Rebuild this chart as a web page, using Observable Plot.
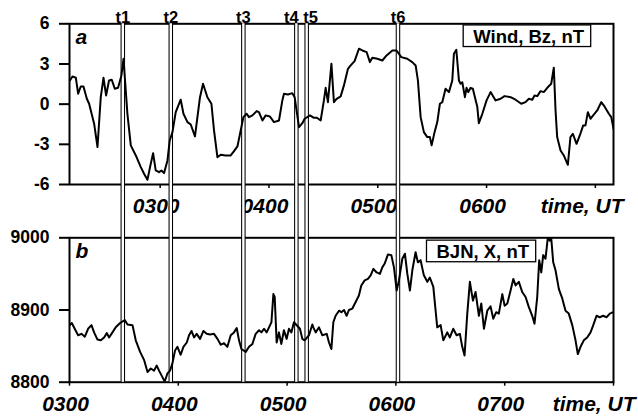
<!DOCTYPE html>
<html><head><meta charset="utf-8">
<script src="https://cdn.jsdelivr.net/npm/d3@7"></script>
<script src="https://cdn.jsdelivr.net/npm/@observablehq/plot@0.6"></script>
<style>
body{margin:0;background:#fff;}
#fig{position:relative;width:638px;height:416px;background:#fff;font-family:"Liberation Sans",Arial,sans-serif;}
#fig svg{position:absolute;left:0;top:0;}
</style></head><body><div id="fig"></div><script>
// ---- Panel a: Wind Bz (nT), time in decimal hours UT ----
const bzTime = [2.170,2.194,2.225,2.246,2.270,2.295,2.326,2.347,2.393,2.424,2.454,2.479,2.503,2.530,2.555,2.583,2.613,2.644,2.663,2.699,2.730,2.776,2.822,2.852,2.883,2.907,2.935,2.959,2.990,3.012,3.036,3.067,3.088,3.113,3.143,3.189,3.214,3.251,3.281,3.320,3.366,3.394,3.434,3.471,3.495,3.526,3.557,3.602,3.648,3.679,3.710,3.734,3.765,3.795,3.816,3.848,3.887,3.908,3.940,3.970,4.009,4.046,4.092,4.123,4.138,4.175,4.215,4.236,4.276,4.307,4.328,4.377,4.413,4.441,4.475,4.505,4.521,4.542,4.574,4.597,4.622,4.659,4.689,4.726,4.751,4.787,4.827,4.858,4.898,4.928,4.950,4.996,5.042,5.081,5.134,5.173,5.216,5.271,5.317,5.348,5.369,5.394,5.424,5.455,5.479,5.495,5.522,5.547,5.571,5.593,5.623,5.654,5.685,5.700,5.722,5.746,5.761,5.777,5.801,5.816,5.832,5.853,5.874,5.893,5.915,5.929,5.961,6.000,6.037,6.083,6.129,6.165,6.221,6.266,6.319,6.358,6.389,6.420,6.441,6.466,6.496,6.526,6.558,6.594,6.618,6.634,6.649,6.680,6.710,6.747,6.771,6.793,6.827,6.857,6.888,6.909,6.931,6.955,6.980,7.017,7.054,7.084,7.124,7.146,7.167];
const bzValue = [1.77,2.07,1.97,0.78,1.32,1.32,0.40,0.03,-1.46,-3.20,0.52,1.97,0.65,1.77,1.82,1.15,1.22,2.14,3.39,-0.72,-3.08,-3.83,-4.70,-5.20,-5.65,-4.70,-3.66,-4.95,-5.08,-4.95,-5.15,-4.20,-2.71,-2.09,-0.60,0.33,-0.72,-1.34,-1.52,-2.41,0.52,1.52,0.52,0.03,-1.96,-3.96,-3.78,-3.83,-3.83,-3.50,-3.16,-2.21,-0.97,-0.72,-0.97,-0.84,-0.52,-0.60,-1.22,-0.84,-0.92,-1.34,-1.22,0.28,0.78,0.72,0.82,0.52,-1.72,-1.42,-1.09,-0.84,-1.02,-1.02,-1.22,0.28,1.22,0.15,3.02,0.15,0.40,0.58,1.40,2.64,2.89,3.21,4.14,4.01,3.88,3.14,3.47,3.39,3.26,3.64,4.01,4.01,3.51,3.39,3.14,2.89,1.77,-0.97,-2.09,-2.46,-2.46,-3.08,-2.09,-1.34,0.03,0.15,1.15,0.90,1.77,3.76,4.06,1.77,1.52,1.64,0.52,1.22,0.90,1.22,1.15,0.52,-0.22,-1.42,-0.72,0.28,0.90,0.28,0.40,0.60,0.52,0.33,0.03,0.15,0.40,0.33,0.65,0.60,0.97,0.90,1.22,1.52,2.72,-0.47,-2.46,-3.46,-3.83,-4.53,-2.46,-2.21,-2.96,-2.34,-1.59,-1.59,-0.60,-1.09,-0.84,-0.47,0.15,-0.17,-0.72,-0.97,-1.84];
const bzTicks = [-6,-3,0,3,6];
const bzTickLabels = ["-6","-3","0","3","6"];
const timeTicksA = [3,4,5,6,7];
const timeLabelsA = ["0300","0400","0500","0600",""];
const domainA = [2 + 10/60, 7 + 10/60];

// ---- Panel b: BJN X (nT) ----
const bjnTime = [3.003,3.021,3.048,3.079,3.110,3.141,3.171,3.202,3.226,3.257,3.288,3.318,3.343,3.364,3.395,3.425,3.465,3.508,3.533,3.579,3.609,3.649,3.685,3.717,3.747,3.777,3.802,3.823,3.854,3.875,3.900,3.924,3.946,3.970,3.992,4.022,4.047,4.078,4.099,4.121,4.145,4.169,4.200,4.231,4.261,4.292,4.328,4.360,4.390,4.420,4.451,4.482,4.512,4.537,4.558,4.580,4.620,4.650,4.681,4.711,4.742,4.764,4.788,4.812,4.834,4.856,4.874,4.886,4.904,4.925,4.947,4.971,4.996,5.017,5.039,5.063,5.118,5.140,5.161,5.201,5.232,5.241,5.263,5.293,5.324,5.364,5.385,5.407,5.425,5.446,5.477,5.499,5.523,5.547,5.568,5.600,5.630,5.660,5.682,5.713,5.743,5.768,5.793,5.823,5.853,5.875,5.896,5.927,5.958,5.982,6.007,6.028,6.059,6.083,6.105,6.129,6.151,6.181,6.202,6.227,6.257,6.289,6.312,6.344,6.365,6.380,6.411,6.436,6.472,6.496,6.527,6.558,6.588,6.610,6.631,6.656,6.680,6.708,6.732,6.763,6.785,6.809,6.840,6.870,6.895,6.922,6.946,6.978,6.999,7.024,7.054,7.079,7.100,7.130,7.161,7.192,7.222,7.253,7.274,7.299,7.317,7.336,7.354,7.375,7.397,7.415,7.428,7.446,7.467,7.498,7.529,7.559,7.589,7.621,7.651,7.672,7.697,7.727,7.758,7.789,7.814,7.844,7.874,7.905,7.936,7.966,7.997];
const bjnValue = [8879,8882,8874,8865,8867,8863,8874,8879,8869,8859,8858,8862,8868,8862,8869,8876,8882,8886,8880,8879,8858,8842,8831,8814,8819,8816,8823,8816,8807,8801,8812,8816,8826,8844,8849,8838,8849,8855,8865,8871,8862,8867,8860,8871,8867,8866,8867,8860,8852,8854,8849,8865,8869,8875,8858,8846,8842,8849,8853,8867,8872,8869,8874,8869,8876,8883,8922,8918,8855,8869,8853,8872,8860,8874,8869,8883,8874,8860,8858,8865,8880,8876,8869,8876,8865,8867,8855,8846,8883,8892,8899,8897,8900,8892,8900,8902,8911,8920,8934,8941,8943,8948,8957,8952,8950,8959,8964,8977,8976,8959,8927,8941,8971,8978,8950,8927,8955,8980,8966,8969,8948,8939,8945,8932,8899,8876,8879,8858,8869,8862,8874,8865,8867,8849,8837,8895,8939,8913,8925,8892,8909,8874,8899,8905,8888,8897,8895,8922,8906,8909,8927,8943,8934,8939,8925,8918,8904,8892,8881,8918,8969,8952,8976,8971,9001,8996,8999,8966,8955,8929,8916,8899,8895,8879,8858,8839,8849,8858,8862,8869,8879,8892,8890,8892,8890,8895,8897];
const bjnTicks = [8800,8900,9000];
const bjnTickLabels = ["8800","8900","9000"];
const timeTicksB = [3,4,5,6,7,8];
const timeLabelsB = ["0300","0400","0500","0600","0700",""];
const domainB = [3, 8];

// ---- Events t1..t6 (UT hours, panel b time) ----
const eventTime = [3.490,3.931,4.598,5.085,5.180,6.019];
const eventLabel = ["t1","t2","t3","t4","t5","t6"];

const panelLabels = ["a","b"];
const legendLabels = ["Wind, Bz, nT","BJN, X, nT"];
const axisTitle = "time, UT";

const W = 638, H = 416;
const FONT = "Liberation Sans, Arial, sans-serif";
const common = {width: W, height: H, marginLeft: 69, marginRight: 25,
  style: {background: "transparent", color: "black", fontFamily: FONT, overflow: "visible"}};
const tickFont = {fontSize: 21, fontWeight: "bold", fontStyle: "italic", fill: "black"};
const lab = (ticks, labels) => { const m = new Map(ticks.map((t, i) => [t, labels[i]])); return d => m.get(d) ?? ""; };
// small label nudges so that the close t4 / t5 labels do not collide
const eventLabelNudge = [0, 0, 0, -5, 4, 0];

function panel({time, value, yDomain, yTicks, yLabels, xDomain, xTicks, xLabels, top, bottom, name, legend, legendDx, legendDy, titleDx}) {
  const scales = {...common, marginTop: top, marginBottom: H - bottom, x: {domain: xDomain}, y: {domain: yDomain}};
  const base = Plot.plot({...scales,
    marks: [
      Plot.frame({stroke: "black", strokeWidth: 2}),
      Plot.axisY(yTicks, {tickSize: 10, tickPadding: 10, strokeWidth: 2, fontSize: 17.5, fontWeight: "bold", fill: "black",
        tickFormat: lab(yTicks, yLabels), label: null}),
      Plot.axisX(xTicks, {tickSize: 4, strokeWidth: 1.5, tickFormat: () => "", label: null}),
      Plot.text(xLabels, {x: xTicks, frameAnchor: "bottom", lineAnchor: "top", dy: 13.5, dx: -4, ...tickFont}),
      Plot.text([axisTitle], {frameAnchor: "bottom-right", textAnchor: "end", lineAnchor: "top", dx: titleDx, dy: 13.5, ...tickFont}),
      Plot.text([name], {frameAnchor: "top-left", textAnchor: "start", lineAnchor: "top", dx: 6, dy: 5, fontSize: 21, fontWeight: "bold", fontStyle: "italic", fill: "black"}),
      Plot.text([legend], {frameAnchor: "top-right", textAnchor: "end", lineAnchor: "top", dx: legendDx, dy: legendDy,
        fontSize: 18.5, fontWeight: "bold", fill: "black", className: "legendtext"})
    ]});
  const data = Plot.plot({...scales, x: {domain: xDomain, axis: null}, y: {domain: yDomain, axis: null},
    marks: [
      Plot.line(value, {x: time, y: value, stroke: "black", strokeWidth: 2, strokeLinejoin: "round", clip: true})
    ]});
  return [base, data];
}

const [baseA, lineA] = panel({time: bzTime, value: bzValue, yDomain: [-6, 6], yTicks: bzTicks, yLabels: bzTickLabels,
  xDomain: domainA, xTicks: timeTicksA, xLabels: timeLabelsA, top: 23.3, bottom: 184,
  name: panelLabels[0], legend: legendLabels[0], legendDx: -29.5, legendDy: 6.2, titleDx: 10});
const [baseB, lineB] = panel({time: bjnTime, value: bjnValue, yDomain: [8800, 9000], yTicks: bjnTicks, yLabels: bjnTickLabels,
  xDomain: domainB, xTicks: timeTicksB, xLabels: timeLabelsB, top: 237.3, bottom: 381.7,
  name: panelLabels[1], legend: legendLabels[1], legendDx: -84.5, legendDy: 7.4, titleDx: 22});

const overlay = Plot.plot({...common, marginTop: 23.3, marginBottom: H - 381.7,
  x: {domain: domainB, axis: null},
  marks: [
    Plot.ruleX(eventTime, {stroke: "black", strokeWidth: 4.5}),
    Plot.ruleX(eventTime, {stroke: "white", strokeWidth: 2.4}),
    Plot.text(eventLabel, {x: eventTime, frameAnchor: "top", lineAnchor: "bottom", dy: -0.5,
      fontSize: 16.5, fontWeight: "bold", fill: "black", className: "eventlabels"})
  ]});

const fig = document.getElementById("fig");
fig.append(baseA, baseB, overlay, lineA, lineB);

// nudge the crowded event labels apart
d3.selectAll(".eventlabels text").each(function(_, i) {
  const t = this.getAttribute("transform") || "";
  this.setAttribute("transform", `translate(${eventLabelNudge[i]},0) ` + t);
});

// boxes around the legend texts
d3.selectAll(".legendtext text").each(function() {
  const b = this.getBBox();
  const t = this.getAttribute("transform");
  d3.select(this.parentNode).insert("rect", () => this)
    .attr("transform", t)
    .attr("x", b.x - 10).attr("y", b.y - 1.2)
    .attr("width", b.width + 16).attr("height", b.height + 0.6)
    .attr("fill", "white").attr("stroke", "black").attr("stroke-width", 1.3);
});
</script></body></html>
